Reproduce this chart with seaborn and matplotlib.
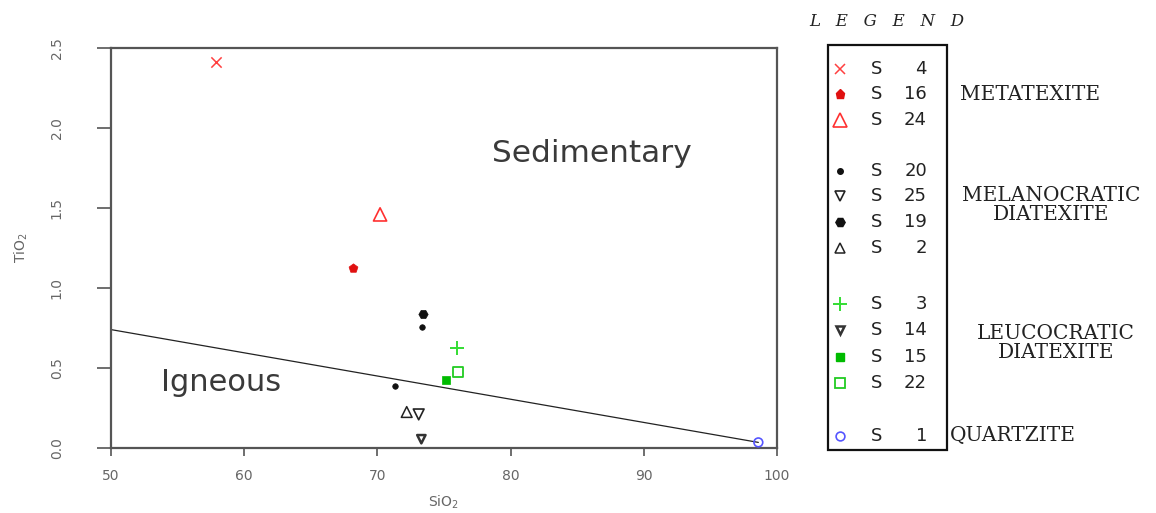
import matplotlib
matplotlib.use("Agg")
import matplotlib.pyplot as plt
import matplotlib.patches as mpatches
import numpy as np
import pandas as pd
import seaborn as sns

# ---- data -------------------------------------------------------------
point_sample = ["S4", "S16", "S24", "S20", "S20", "S25", "S19", "S2",
                "S3", "S14", "S15", "S22", "S1"]
sio2 = [57.9, 68.2, 70.2, 73.35, 71.3, 73.1, 73.4, 72.2,
        76.0, 73.3, 75.15, 76.05, 98.6]
tio2 = [2.41, 1.125, 1.46, 0.756, 0.39, 0.21, 0.84, 0.225,
        0.625, 0.055, 0.425, 0.475, 0.035]

# legend order and grouping
legend_samples = ["S4", "S16", "S24", "S20", "S25", "S19", "S2",
                  "S3", "S14", "S15", "S22", "S1"]
legend_numbers = ["4", "16", "24", "20", "25", "19", "2",
                  "3", "14", "15", "22", "1"]
group_names = ["METATEXITE", "MELANOCRATIC\nDIATEXITE",
               "LEUCOCRATIC\nDIATEXITE", "QUARTZITE"]

# igneous / sedimentary discriminant line
line_sio2 = [50.0, 98.6]
line_tio2 = [0.74, 0.035]

x_ticks = [50, 60, 70, 80, 90, 100]
y_ticks = [0.0, 0.5, 1.0, 1.5, 2.0, 2.5]

# ---- marker styles ----------------------------------------------------
styles = {
    "S4":  dict(marker="x", color="#ff4040", size=55, fill=False, lw=1.1),
    "S16": dict(marker="p", color="#e01010", size=45, fill=True, lw=0.5),
    "S24": dict(marker="^", color="#ff3030", size=90, fill=False, lw=1.2),
    "S20": dict(marker="o", color="#111111", size=16, fill=True, lw=0.5),
    "S25": dict(marker="v", color="#222222", size=60, fill=False, lw=1.2),
    "S19": dict(marker="H", color="#111111", size=45, fill=True, lw=0.5),
    "S2":  dict(marker="^", color="#222222", size=60, fill=False, lw=1.1),
    "S3":  dict(marker="+", color="#33dd33", size=90, fill=False, lw=1.4),
    "S14": dict(marker="v", color="#333333", size=36, fill=False, lw=1.8),
    "S15": dict(marker="s", color="#00bb00", size=40, fill=True, lw=0.5),
    "S22": dict(marker="s", color="#22cc22", size=55, fill=False, lw=1.3),
    "S1":  dict(marker="o", color="#5555ff", size=40, fill=False, lw=1.2),
}

df = pd.DataFrame({"sample": point_sample, "SiO2": sio2, "TiO2": tio2})

sns.set_theme(style="white")
plt.rcParams["font.family"] = ["DejaVu Sans"]

W, H = 1156, 513
fig = plt.figure(figsize=(W / 100, H / 100), dpi=100)
ax = fig.add_axes([111 / W, 1 - 448 / H, 666 / W, 400 / H])

axis_col = "#555555"
text_col = "#666666"

# discriminant line
sns.lineplot(x=line_sio2, y=line_tio2, ax=ax, color="#222222", lw=0.9,
             zorder=2)

# sample points
for name, sub in df.groupby("sample", sort=False):
    st = styles[name]
    kw = dict(marker=st["marker"], s=st["size"], linewidth=st["lw"], zorder=3)
    if st["fill"]:
        kw.update(color=st["color"], edgecolor=st["color"])
    elif st["marker"] in ("x", "+"):
        kw.update(color=st["color"])
    else:
        kw.update(facecolor="none", edgecolor=st["color"])
    sns.scatterplot(data=sub, x="SiO2", y="TiO2", ax=ax, legend=False, **kw)

ax.set_xlim(50, 100)
ax.set_ylim(0, 2.5)
ax.set_xticks(x_ticks)
ax.set_yticks(y_ticks)
ax.set_xticklabels([str(v) for v in x_ticks])
ax.set_yticklabels([f"{v:.1f}" for v in y_ticks])

for sp in ax.spines.values():
    sp.set_visible(True)
    sp.set_color(axis_col)
    sp.set_linewidth(1.6)

ax.tick_params(axis="x", direction="out", length=6, width=1.2,
               color=axis_col, labelcolor=text_col, labelsize=10, pad=9,
               bottom=True)
ax.tick_params(axis="y", direction="out", length=10, width=1.2,
               color=axis_col, labelcolor=text_col, labelsize=10, pad=24,
               left=True, labelrotation=90)
for lab in ax.get_yticklabels():
    lab.set_va("center")

ax.set_xlabel("SiO$_2$", color=text_col, fontsize=10)
ax.set_ylabel("TiO$_2$", color=text_col, fontsize=10)
ax.xaxis.set_label_coords((443 - 111) / 666, -(494 - 448) / 400)
ax.yaxis.set_label_coords((30 - 111) / 666, 0.5)

ax.text(86.1, 1.84, "Sedimentary", fontsize=22.5, color="#3a3a3a",
        ha="center", va="center")
ax.text(58.3, 0.41, "Igneous", fontsize=22, color="#3a3a3a",
        ha="center", va="center")

# ---- hand-built legend panel (pixel coordinates) ----------------------
lg = fig.add_axes([0, 0, 1, 1])
lg.set_xlim(0, W)
lg.set_ylim(H, 0)
lg.axis("off")

lg.text(887, 22, "L   E   G   E   N   D", fontsize=12, style="italic",
        family="DejaVu Serif", color="#222222", ha="center", va="center")
lg.add_patch(mpatches.Rectangle((828, 45), 119, 405, fill=False,
                                edgecolor="#111111", lw=1.6))

row_y = [69, 94, 120, 171, 196, 222, 248, 304, 330, 357, 383, 436]
for name, num, yy in zip(legend_samples, legend_numbers, row_y):
    st = styles[name]
    ms = np.sqrt(st["size"])
    if st["fill"]:
        lg.plot([840], [yy], marker=st["marker"], ms=ms, color=st["color"],
                mec=st["color"], ls="none")
    elif st["marker"] in ("x", "+"):
        lg.plot([840], [yy], marker=st["marker"], ms=ms, color=st["color"],
                mew=st["lw"], ls="none")
    else:
        lg.plot([840], [yy], marker=st["marker"], ms=ms, mfc="none",
                mec=st["color"], mew=st["lw"], ls="none")
    lg.text(871, yy, "S", fontsize=13, color="#222222", ha="left",
            va="center")
    lg.text(927, yy, num, fontsize=13, color="#222222", ha="right",
            va="center")

serif = dict(family="DejaVu Serif", fontsize=14.5, color="#222222",
             va="center", linespacing=1.05)
lg.text(960, 94, group_names[0], ha="left", **serif)
lg.text(1051, 205, group_names[1], ha="center", multialignment="center",
        **serif)
lg.text(1056, 343, group_names[2], ha="center", multialignment="center",
        **serif)
lg.text(950, 436, group_names[3], ha="left", **serif)

fig.savefig("out.png", dpi=100, facecolor="white")
